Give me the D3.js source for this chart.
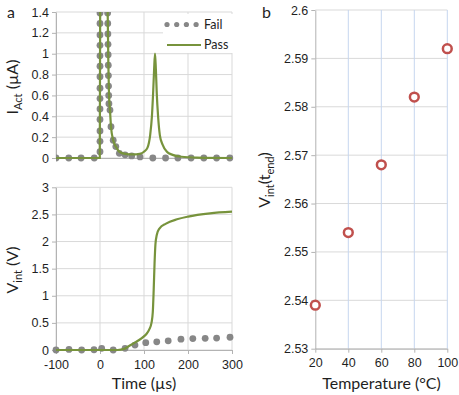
<!DOCTYPE html>
<html>
<head>
<meta charset="utf-8">
<script src="https://cdn.jsdelivr.net/npm/d3@7/dist/d3.min.js"></script>
<style>
  body { margin: 0; background: #fff; }
  svg { display: block; font-family: Lato, "Open Sans", sans-serif; }
</style>
</head>
<body>
<div id="chart"></div>
<script>
// ---- data ----
// panel a, top: actuator current (µA) vs time (µs)
const failIT = [-100, -71, -43, -13,
  0, 0, 0, 0, 0, 0, 0, 0, 0, 0, 0, 0, 0, 0,
  17.3, 17.6, 17.9, 18.2, 18.5, 18.8, 19.1, 19.4, 19.8, 20.3,
  22.7, 25, 30, 36, 44, 57, 72, 91, 120, 149, 177, 207, 236, 265, 295]
const failIV = [0, 0, 0, 0,
  0.06, 0.16, 0.26, 0.37, 0.47, 0.57, 0.67, 0.78, 0.88, 0.98, 1.08, 1.18, 1.29, 1.39,
  1.39, 1.29, 1.19, 1.09, 0.99, 0.89, 0.79, 0.69, 0.6, 0.52,
  0.46, 0.3, 0.17, 0.11, 0.045, 0.03, 0.02, 0.01, 0, 0, 0, 0, 0, 0, 0]
const passIT = [-100, -0.5, 0.5, 8, 16, 17.5, 19, 20.5, 22.7, 25, 30, 36, 44, 57, 75, 90, 100, 108, 114, 118,
  121, 123, 125, 127, 129, 132, 136, 142, 152, 165, 185, 220, 300]
const passIV = [0, 0, 1.6, 3.0, 1.6, 1.39, 0.9, 0.6, 0.46, 0.3, 0.17, 0.11, 0.06, 0.04, 0.035, 0.04, 0.06, 0.1, 0.22, 0.4,
  0.65, 0.85, 1.0, 0.85, 0.62, 0.4, 0.22, 0.13, 0.06, 0.03, 0.012, 0.004, 0]

// panel a, bottom: integrator voltage (V) vs time (µs)
const failVT = [-100, -70.5, -41.7, -13.6, 3.8, 30, 57, 79.5, 104, 129, 155, 184, 211, 239, 265, 295.5]
const failVV = [0, 0.01, 0, 0.005, 0.03, 0, 0.03, 0.09, 0.135, 0.15, 0.17, 0.2, 0.21, 0.215, 0.22, 0.235]
const passVT = [-100, 40, 55, 65, 80, 95, 105, 112, 117, 120, 122, 124, 126, 129, 135, 150, 175, 200, 250, 300]
const passVV = [0, 0, 0.02, 0.07, 0.14, 0.22, 0.29, 0.38, 0.5, 0.7, 1.1, 1.6, 1.95, 2.12, 2.24, 2.33, 2.41, 2.46, 2.52, 2.55]

// panel b: Vint(t_end) vs temperature
const temps = [20, 40, 60, 80, 100]
const vEnd = [2.539, 2.554, 2.568, 2.582, 2.592]

// ticks
const timeTicks = [-100, 0, 100, 200, 300]
const iTicks = [0, 0.2, 0.4, 0.6, 0.8, 1, 1.2, 1.4]
const vTicks = [0, 0.5, 1, 1.5, 2, 2.5, 3]
const tempTicks = [20, 40, 60, 80, 100]
const vEndTicks = [2.53, 2.54, 2.55, 2.56, 2.57, 2.58, 2.59, 2.6]

const GREEN = '#77933c'
const GRAY_DOT = '#878787'
const RED = '#c0504d'
const GRID = '#d9d9d9'
const AXIS = '#b3b3b3'
const TEXT = '#1f1f1f'

const width = 459, height = 395

const svg = d3.select('#chart').append('svg')
  .attr('width', width)
  .attr('height', height)

const zip = (xs, ys) => xs.map((x, i) => [x, ys[i]])

// ---- scales ----
const xTime = d3.scaleLinear().domain([-100, 300]).range([56, 232])
const yI = d3.scaleLinear().domain([0, 1.4]).range([158, 12])
const yV = d3.scaleLinear().domain([0, 3]).range([350, 187.3])
const xTemp = d3.scaleLinear().domain([20, 100]).range([315.3, 447.3])
const yEnd = d3.scaleLinear().domain([2.53, 2.6]).range([348.7, 10])

function grid(g, xs, ys, xScale, yScale, xColor, yColor) {
  const [x0, x1] = xScale.range()
  const [y0, y1] = yScale.range()
  g.selectAll('.hgrid').data(ys).enter().append('line')
    .attr('x1', x0).attr('x2', x1)
    .attr('y1', d => yScale(d)).attr('y2', d => yScale(d))
    .attr('stroke', yColor).attr('stroke-width', 1)
  g.selectAll('.vgrid').data(xs).enter().append('line')
    .attr('x1', d => xScale(d)).attr('x2', d => xScale(d))
    .attr('y1', y0).attr('y2', y1)
    .attr('stroke', xColor).attr('stroke-width', 1)
}

function styleAxis(g) {
  g.select('.domain').attr('stroke', AXIS)
  g.selectAll('.tick line').attr('stroke', AXIS)
  g.selectAll('.tick text').attr('fill', TEXT).style('font-size', '12.5px')
}

// ---- panel a, top ----
const topPanel = svg.append('g')
grid(topPanel, timeTicks, iTicks, xTime, yI, GRID, GRID)

topPanel.append('g')
  .attr('transform', `translate(${xTime.range()[0]},0)`)
  .call(d3.axisLeft(yI).tickValues(iTicks).tickSize(4).tickSizeOuter(0).tickFormat(d => String(d)))
  .call(styleAxis)
topPanel.append('g')
  .attr('transform', `translate(0,${yI(0)})`)
  .call(d3.axisBottom(xTime).tickValues(timeTicks).tickSize(0).tickSizeOuter(0).tickFormat(''))
  .call(styleAxis)

svg.append('clipPath').attr('id', 'clipTop')
  .append('rect').attr('x', 56).attr('y', 12).attr('width', 180).attr('height', 150)

topPanel.append('g').attr('clip-path', 'url(#clipTop)')
  .selectAll('circle').data(zip(failIT, failIV)).enter().append('circle')
  .attr('cx', d => xTime(d[0])).attr('cy', d => yI(d[1]))
  .attr('r', 3.4).attr('fill', GRAY_DOT)

topPanel.append('path')
  .datum(zip(passIT, passIV))
  .attr('clip-path', 'url(#clipTop)')
  .attr('fill', 'none').attr('stroke', GREEN).attr('stroke-width', 2.2)
  .attr('d', d3.line().x(d => xTime(d[0])).y(d => yI(d[1])).curve(d3.curveMonotoneX))

// legend
const legend = topPanel.append('g')
legend.append('rect').attr('x', 163).attr('y', 14).attr('width', 72).attr('height', 39).attr('fill', '#fff')
legend.selectAll('circle').data([0, 1, 2, 3]).enter().append('circle')
  .attr('cx', d => 167 + d * 9.7).attr('cy', 24.5).attr('r', 2.6).attr('fill', GRAY_DOT)
legend.append('line').attr('x1', 167).attr('x2', 201).attr('y1', 45).attr('y2', 45)
  .attr('stroke', GREEN).attr('stroke-width', 2.2)
legend.append('text').attr('x', 204).attr('y', 29).text('Fail')
  .attr('fill', TEXT).style('font-size', '12.5px')
legend.append('text').attr('x', 204).attr('y', 49).text('Pass')
  .attr('fill', TEXT).style('font-size', '12.5px')

// ---- panel a, bottom ----
const bottomPanel = svg.append('g')
grid(bottomPanel, timeTicks, vTicks, xTime, yV, GRID, GRID)

bottomPanel.append('g')
  .attr('transform', `translate(${xTime.range()[0]},0)`)
  .call(d3.axisLeft(yV).tickValues(vTicks).tickSize(4).tickSizeOuter(0).tickFormat(d => String(d)))
  .call(styleAxis)
bottomPanel.append('g')
  .attr('transform', `translate(0,${yV(0)})`)
  .call(d3.axisBottom(xTime).tickValues(timeTicks).tickSize(4).tickPadding(6).tickSizeOuter(0).tickFormat(d => String(d)))
  .call(styleAxis)

bottomPanel.append('g')
  .selectAll('circle').data(zip(failVT, failVV)).enter().append('circle')
  .attr('cx', d => xTime(d[0])).attr('cy', d => yV(d[1]))
  .attr('r', 3.4).attr('fill', GRAY_DOT)

bottomPanel.append('path')
  .datum(zip(passVT, passVV))
  .attr('fill', 'none').attr('stroke', GREEN).attr('stroke-width', 2.2)
  .attr('d', d3.line().x(d => xTime(d[0])).y(d => yV(d[1])).curve(d3.curveMonotoneX))

// ---- panel b ----
const rightPanel = svg.append('g')
grid(rightPanel, tempTicks.slice(1), vEndTicks, xTemp, yEnd, '#c6d6ef', GRID)

rightPanel.append('g')
  .attr('transform', `translate(${xTemp.range()[0]},0)`)
  .call(d3.axisLeft(yEnd).tickValues(vEndTicks).tickSize(4).tickSizeOuter(0).tickFormat(d => String(d)))
  .call(styleAxis)
rightPanel.append('g')
  .attr('transform', `translate(0,${yEnd(2.53)})`)
  .call(d3.axisBottom(xTemp).tickValues(tempTicks).tickSize(4).tickPadding(5).tickSizeOuter(0).tickFormat(d => String(d)))
  .call(styleAxis)

rightPanel.selectAll('.pt').data(zip(temps, vEnd)).enter().append('circle')
  .attr('cx', d => xTemp(d[0])).attr('cy', d => yEnd(d[1]))
  .attr('r', 4.4).attr('fill', '#fff').attr('stroke', RED).attr('stroke-width', 2.5)

// ---- titles ----
const title = (x, y, rot) => svg.append('text')
  .attr('transform', `translate(${x},${y})${rot ? ' rotate(-90)' : ''}`)
  .attr('text-anchor', 'middle').attr('fill', TEXT).style('font-size', '16px')

const tI = title(18, 87, true)
tI.append('tspan').text('I')
tI.append('tspan').text('Act').attr('dy', 4).style('font-size', '11px')
tI.append('tspan').text(' (µA)').attr('dy', -4)

const tV = title(18, 270, true)
tV.append('tspan').text('V')
tV.append('tspan').text('int').attr('dy', 4).style('font-size', '11px')
tV.append('tspan').text(' (V)').attr('dy', -4)

const tE = title(270, 180, true)
tE.append('tspan').text('V')
tE.append('tspan').text('int').attr('dy', 4).style('font-size', '11px')
tE.append('tspan').text('(t').attr('dy', -4)
tE.append('tspan').text('end').attr('dy', 4).style('font-size', '11px')
tE.append('tspan').text(')').attr('dy', -4)

title(144, 389, false).text('Time (µs)')
title(381.5, 389, false).text('Temperature (°C)')

svg.append('text').attr('x', 7).attr('y', 18).text('a')
  .attr('fill', TEXT).style('font-size', '16px')
svg.append('text').attr('x', 262).attr('y', 18).text('b')
  .attr('fill', TEXT).style('font-size', '16px')
</script>
</body>
</html>
